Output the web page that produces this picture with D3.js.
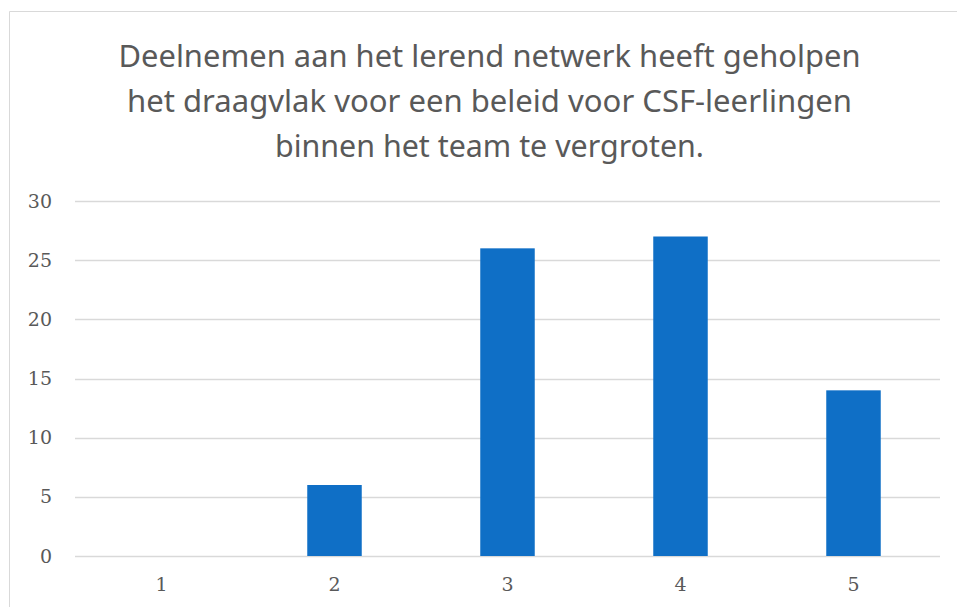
<!DOCTYPE html>
<html>
<head>
<meta charset="utf-8">
<script src="https://cdn.jsdelivr.net/npm/d3@7"></script>
<style>
  body { margin: 0; background: #fff; }
  svg { display: block; }
</style>
</head>
<body>
<div id="chart"></div>
<script>
const titleLines = [
    "Deelnemen aan het lerend netwerk heeft geholpen",
    "het draagvlak voor een beleid voor CSF-leerlingen",
    "binnen het team te vergroten."
];
const titleWidths = [742, 725, 429];
const categories = ["1", "2", "3", "4", "5"];
const values = [0, 6, 26, 27, 14];
const yTicks = [0, 5, 10, 15, 20, 25, 30];

const width = 957, height = 607;
const margin = {top: 201, right: 17, bottom: 51, left: 75};
const innerWidth = width - margin.left - margin.right;
const innerHeight = height - margin.top - margin.bottom;

const svg = d3.select("#chart").append("svg")
    .attr("width", width)
    .attr("height", height);

// chart frame: only top and left edges are visible in the crop
svg.append("path")
    .attr("d", `M9.5,${height}V11.5H${width}`)
    .attr("fill", "none")
    .attr("stroke", "#d9d9d9");

const title = svg.append("text")
    .attr("text-anchor", "middle")
    .attr("fill", "#595959")
    .style("font-family", "'Noto Sans', sans-serif")
    .style("font-size", "31.5px");
title.selectAll("tspan")
    .data(titleLines)
    .join("tspan")
    .attr("x", 489.5)
    .attr("y", (d, i) => 67 + i * 45)
    .attr("textLength", (d, i) => titleWidths[i])
    .attr("lengthAdjust", "spacingAndGlyphs")
    .text(d => d);

const g = svg.append("g")
    .attr("transform", `translate(${margin.left}, ${margin.top})`);

const x = d3.scaleBand()
    .domain(categories)
    .range([0, innerWidth])
    .paddingInner(0.685)
    .paddingOuter(0.3425);

const y = d3.scaleLinear()
    .domain([0, 30])
    .range([innerHeight, 0]);

// gridlines
g.append("g")
    .selectAll("line")
    .data(yTicks)
    .join("line")
    .attr("x1", 0).attr("x2", innerWidth)
    .attr("y1", d => Math.round(y(d)) + 0.5)
    .attr("y2", d => Math.round(y(d)) + 0.5)
    .attr("stroke", "#d9d9d9")
    .attr("stroke-width", 1.3);

const yAxis = d3.axisLeft(y)
    .tickValues(yTicks)
    .tickSize(0)
    .tickPadding(23);
const xAxis = d3.axisBottom(x)
    .tickSize(0)
    .tickPadding(22);

g.append("g")
    .attr("class", "axis")
    .call(yAxis);
g.append("g")
    .attr("class", "axis")
    .attr("transform", `translate(0, ${innerHeight})`)
    .call(xAxis);

d3.selectAll(".axis > path").style("display", "none");
d3.selectAll(".axis text")
    .attr("fill", "#595959")
    .style("font-family", "'DejaVu Serif', serif")
    .style("font-size", "19px");

g.selectAll(".bar")
    .data(values)
    .join("rect")
    .attr("class", "bar")
    .attr("x", (d, i) => x(categories[i]))
    .attr("y", d => y(d))
    .attr("width", x.bandwidth())
    .attr("height", d => innerHeight - y(d))
    .attr("fill", "#0f6fc6");
</script>
</body>
</html>
